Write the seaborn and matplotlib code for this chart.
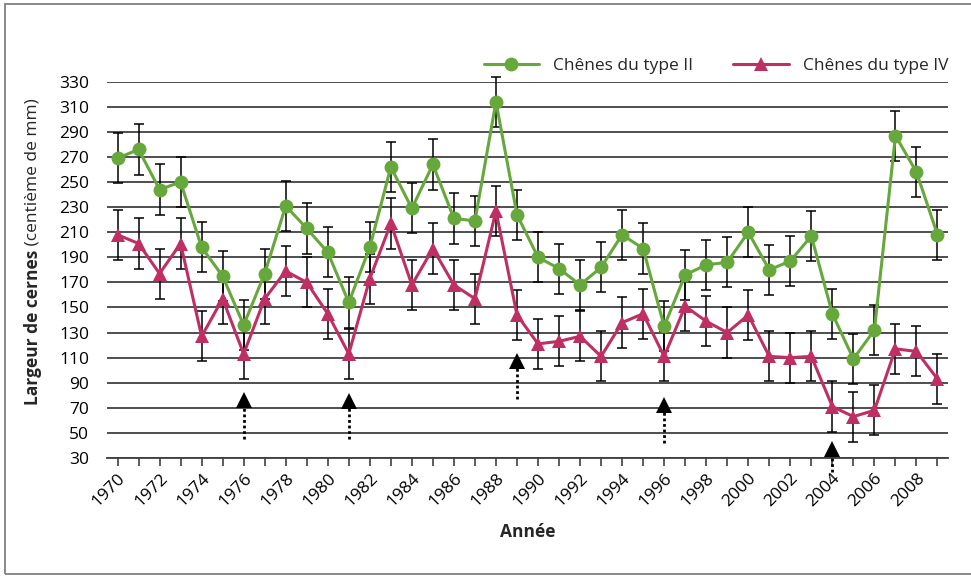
import pandas as pd
import seaborn as sns
import matplotlib.pyplot as plt
import matplotlib.transforms as mtransforms
from matplotlib.lines import Line2D
from matplotlib.patches import Rectangle

# --------------------------- DATA ---------------------------
annees = list(range(1970, 2010))

chene_ii = [269, 276, 244, 250, 198, 175, 136, 177, 231, 213,
            194, 154, 198, 262, 229, 264, 221, 219, 314, 224,
            190, 181, 168, 182, 208, 197, 135, 176, 184, 186,
            210, 180, 187, 207, 145, 109, 132, 287, 258, 208]
chene_ii_err = [20, 20, 20, 20, 20, 20, 20, 20, 20, 20,
                20, 20, 20, 20, 20, 20, 20, 20, 20, 20,
                20, 20, 20, 20, 20, 20, 20, 20, 20, 20,
                20, 20, 20, 20, 20, 20, 20, 20, 20, 20]

chene_iv = [208, 201, 177, 201, 127, 157, 113, 157, 179, 170,
            145, 113, 173, 217, 168, 197, 168, 157, 227, 144,
            121, 123, 127, 111, 138, 145, 111, 151, 139, 130,
            144, 111, 110, 111, 71, 63, 68, 117, 115, 93]
chene_iv_err = [20, 20, 20, 20, 20, 20, 20, 20, 20, 20,
                20, 20, 20, 20, 20, 20, 20, 20, 20, 20,
                20, 20, 20, 20, 20, 20, 20, 20, 20, 20,
                20, 20, 20, 20, 20, 20, 20, 20, 20, 20]

labels_series = ['Chênes du type II', 'Chênes du type IV']

# fleches (annees marquees)
fleche_annees = [1976, 1981, 1989, 1996, 2004]
fleche_haut = [83, 82, 114, 79, 43.5]
fleche_bas = [45, 45, 77, 42, 18.5]

y_ticks = list(range(30, 331, 20))
x_ticklabels = [str(a) if a % 2 == 0 else '' for a in annees]

# --------------------------- STYLE ---------------------------
vert = '#66a83b'
rose = '#bf2f63'
gris = '#404040'

sns.set_theme(style='white')
plt.rcParams['font.family'] = ['Open Sans', 'DejaVu Sans']
plt.rcParams['font.size'] = 12.5

df = pd.DataFrame({
    'Annee': annees + annees,
    'Largeur': chene_ii + chene_iv,
    'Type': [labels_series[0]] * len(annees) + [labels_series[1]] * len(annees),
})

# --------------------------- FIGURE ---------------------------
fig = plt.figure(figsize=(9.71, 5.78), dpi=100)
ax = fig.add_axes([107 / 971, 1 - 458 / 578, 841 / 971, (458 - 81.7) / 578])

for vals, errs in [(chene_ii, chene_ii_err), (chene_iv, chene_iv_err)]:
    eb = ax.errorbar(annees, vals, yerr=errs, fmt='none', ecolor='black',
                     elinewidth=1.1, capsize=3.5, capthick=1.1, zorder=2)
    for art in list(eb.lines[1]) + list(eb.lines[2]):
        art.set_clip_on(False)

sns.lineplot(data=df, x='Annee', y='Largeur', hue='Type', style='Type',
             markers=['o', '^'], dashes=False, palette=[vert, rose],
             linewidth=2.2, markersize=10, markeredgewidth=0,
             legend=False, ax=ax, zorder=3)

# fleches noires pointillees
for a, h, b in zip(fleche_annees, fleche_haut, fleche_bas):
    ax.plot([a, a], [b, h - 5], color='black', lw=2, linestyle=(0, (1, 1)),
            clip_on=False, zorder=4)
    tri = mtransforms.offset_copy(ax.transData, fig=fig, y=-6, units='points')
    ax.plot([a], [h], marker='^', ms=12, color='black', mew=0,
            transform=tri, clip_on=False, zorder=4)

# --------------------------- AXES ---------------------------
ax.set_xlim(1969.5, 2009.5)
ax.set_ylim(30, 330)
ax.set_yticks(y_ticks)
ax.set_xticks(annees)
ax.set_xticklabels(x_ticklabels, rotation=45, ha='right', rotation_mode='anchor')
ax.yaxis.grid(True, color=gris, lw=1.3)
ax.set_axisbelow(True)
for s in ['top', 'right', 'left']:
    ax.spines[s].set_visible(False)
ax.spines['bottom'].set_color(gris)
ax.spines['bottom'].set_linewidth(1.3)
ax.tick_params(axis='x', bottom=True, direction='out', length=6, width=1.2,
               color=gris, pad=3, labelsize=12.5, labelcolor='black')
ax.tick_params(axis='y', left=False, pad=7, labelsize=12.5, labelcolor='black')
ax.set_xlabel('')
ax.set_ylabel('')

# titres des axes
t1 = fig.text(33 / 971, 1 - 405 / 578, 'Largeur de cernes', rotation=90,
              ha='center', va='bottom', fontweight='bold', fontsize=12.5)
ax.annotate(' (centième de mm)', xy=(0.5, 1), xycoords=t1, rotation=90,
            ha='center', va='bottom', fontsize=12.5, annotation_clip=False)
fig.text(527.5 / 971, 1 - 532 / 578, 'Année', ha='center', va='center',
         fontweight='bold', fontsize=12.5)

# --------------------------- LEGEND ---------------------------
handles = [
    Line2D([], [], color=vert, marker='o', lw=2.2, ms=10, mew=0),
    Line2D([], [], color=rose, marker='^', lw=2.2, ms=10, mew=0),
]
ax.legend(handles, labels_series, ncol=2, loc='lower right',
          bbox_to_anchor=(1.0, 1.02), frameon=False, handlelength=3.2,
          columnspacing=2.3, handletextpad=0.8, fontsize=12.5,
          borderaxespad=0, borderpad=0)

# cadre
fig.add_artist(Rectangle((5 / 971, 1 - 574 / 578), 1.0, 570 / 578,
                         transform=fig.transFigure, fill=False,
                         edgecolor='#808080', lw=1.3))

fig.savefig('out.png', dpi=100)
plt.close()
